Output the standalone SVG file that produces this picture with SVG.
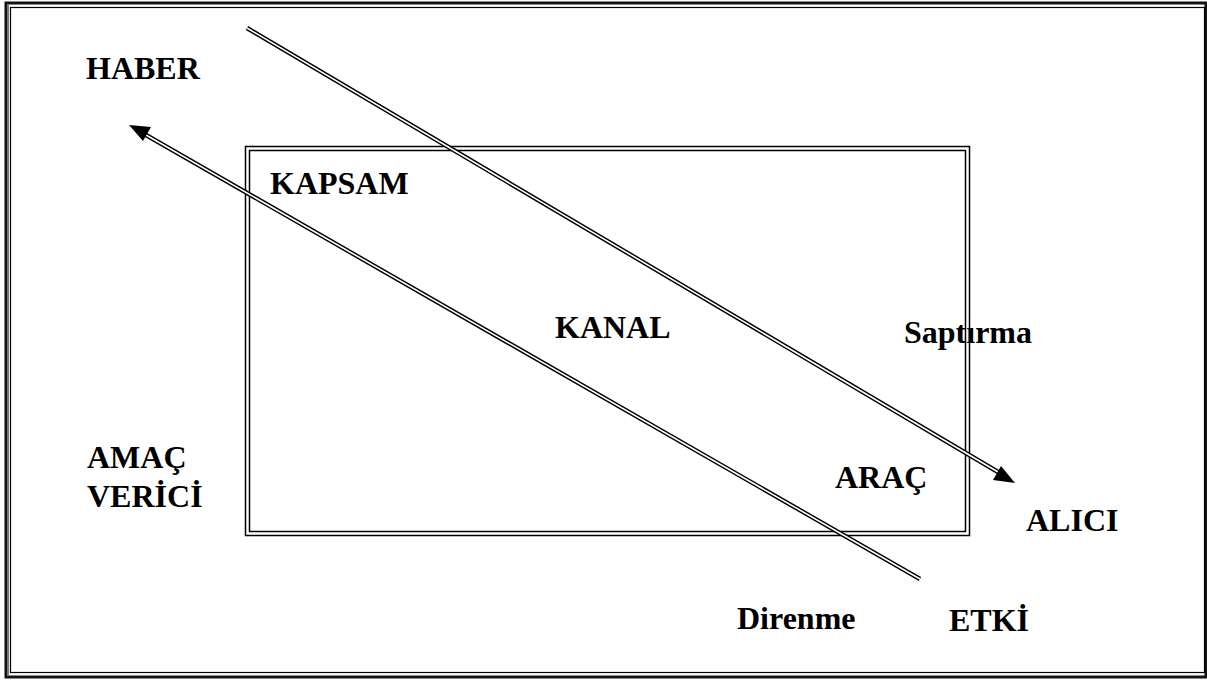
<svg xmlns="http://www.w3.org/2000/svg" width="1207" height="680" viewBox="0 0 1207 680">
<defs>
<style>
text{font-family:"Liberation Serif","Times New Roman",serif;font-weight:bold;font-size:32px;fill:#000}
.dl1{stroke:#000;stroke-width:4.5;fill:none}
.dl2{stroke:#fff;stroke-width:1.6;fill:none}
</style>
</defs>
<rect width="1207" height="680" fill="#fff"/>
<g id="frame">
<rect x="6" y="3" width="1200" height="674" fill="none" stroke="#111" stroke-width="3"/>
<rect x="10.5" y="7.5" width="1194" height="665" fill="none" stroke="#000" stroke-width="1.2"/>
<line x1="8" y1="4" x2="8" y2="676" stroke="#777" stroke-width="2"/>
</g>
<g id="kanal-box">
<rect x="245.5" y="146.5" width="724" height="389" fill="none" stroke="#000" stroke-width="1.5"/>
<rect x="249.5" y="150.5" width="716" height="381" fill="none" stroke="#000" stroke-width="1.5"/>
</g>
<g id="connectors">
<line class="dl1" x1="247" y1="28" x2="998" y2="472"/>
<line class="dl2" x1="247" y1="28" x2="998" y2="472"/>
<path d="M1015,483 L993,480 L1001,466 z" fill="#000"/>
<line class="dl1" x1="920" y1="579" x2="146" y2="135"/>
<line class="dl2" x1="920" y1="579" x2="146" y2="135"/>
<path d="M129,125 L151,127 L143,141 z" fill="#000"/>
</g>
<g id="labels">
<text x="86" y="79">HABER</text>
<text x="270" y="194">KAPSAM</text>
<text x="555" y="338">KANAL</text>
<text x="904" y="343">Saptırma</text>
<text x="87" y="468">AMAÇ</text>
<text x="87" y="507">VERİCİ</text>
<text x="835" y="488">ARAÇ</text>
<text x="1026" y="531">ALICI</text>
<text x="737" y="629">Direnme</text>
<text x="949" y="631">ETKİ</text>
</g>
</svg>
